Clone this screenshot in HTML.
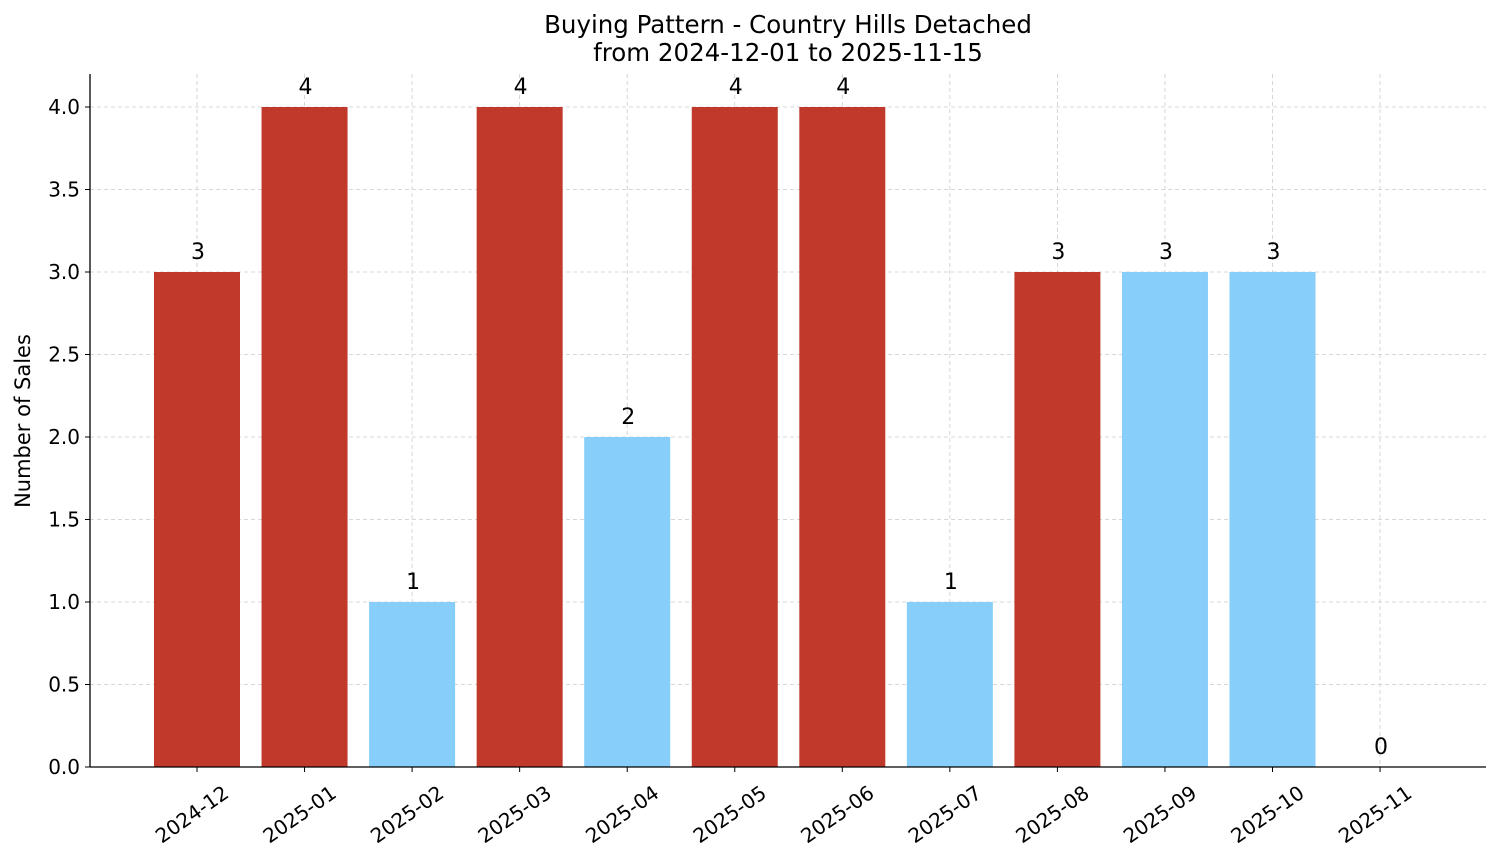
<!DOCTYPE html>
<html><head><meta charset="utf-8"><style>
body{margin:0;background:#fff}
svg text{font-family:"DejaVu Sans","Liberation Sans",sans-serif;fill:#000}
</style></head><body>
<svg id="chart" width="1501" height="863" xmlns="http://www.w3.org/2000/svg">
<text x="788" y="33" font-size="24.5" text-anchor="middle">Buying Pattern - Country Hills Detached</text>
<text x="788" y="61" font-size="24.5" text-anchor="middle">from 2024-12-01 to 2025-11-15</text>
<text transform="translate(30,421) rotate(-90)" font-size="21" text-anchor="middle">Number of Sales</text>
<g id="grid"></g><g id="bars"></g><g id="axes"></g>
</svg>
<script>
const categories=["2024-12","2025-01","2025-02","2025-03","2025-04","2025-05","2025-06","2025-07","2025-08","2025-09","2025-10","2025-11"];
const sales=[3,4,1,4,2,4,4,1,3,3,3,0];
const highlight=[1,1,0,1,0,1,1,0,1,0,0,0];
const yTicks=[0,0.5,1,1.5,2,2.5,3,3.5,4];
const yTickLabels=["0.0","0.5","1.0","1.5","2.0","2.5","3.0","3.5","4.0"];
const NS="http://www.w3.org/2000/svg";
const L=90,R=1486,B=767,T=74,yMax=4.2;
const y=v=>B-(v/yMax)*(B-T);
const x0=197,step=107.55;
const x=i=>x0+i*step;
const bw=86;
function mk(tag,attrs,parent,text){const e=document.createElementNS(NS,tag);for(const k in attrs)e.setAttribute(k,attrs[k]);if(text!==undefined)e.textContent=text;document.getElementById(parent).appendChild(e);return e;}
yTicks.forEach((t,i)=>{
 const g=mk('line',{x1:L,x2:R,y1:y(t),y2:y(t),stroke:'#ccc','stroke-dasharray':'4,3','stroke-width':0.8},'grid');
 
 
 const tk=mk('line',{x1:L-5,x2:L,y1:y(t),y2:y(t),stroke:'#000'},'axes');
 
 
 const lb=mk('text',{x:L-10,y:y(t)+7,'font-size':20,'text-anchor':'end'},'axes',yTickLabels[i]);
 
 
});
categories.forEach((c,i)=>{
 const g=mk('line',{x1:x(i),x2:x(i),y1:T,y2:B,stroke:'#ccc','stroke-dasharray':'4,3','stroke-width':0.8},'grid');
 
 
 const r=mk('rect',{x:x(i)-bw/2,y:y(sales[i]),width:bw,height:B-y(sales[i]),fill:highlight[i]?'#c0392b':'#87cefa'},'bars');
 
 
 const v=mk('text',{x:x(i)+1,y:y(sales[i])-13,'font-size':22,'text-anchor':'middle'},'bars',String(sales[i]));
 
 
 const tk=mk('line',{x1:x(i),x2:x(i),y1:B,y2:B+5,stroke:'#000'},'axes');
 
 
 const lb=mk('text',{x:0,y:0,'font-size':20,'text-anchor':'middle',transform:`translate(${x(i)-1},${820}) rotate(-35)`},'axes',c);
 
 
});
const ya=mk('line',{x1:L,x2:L,y1:T,y2:B,stroke:'#000','stroke-width':1.3},'axes');


const xa=mk('line',{x1:L,x2:R,y1:B,y2:B,stroke:'#000','stroke-width':1.3},'axes');


</script>
</body></html>
